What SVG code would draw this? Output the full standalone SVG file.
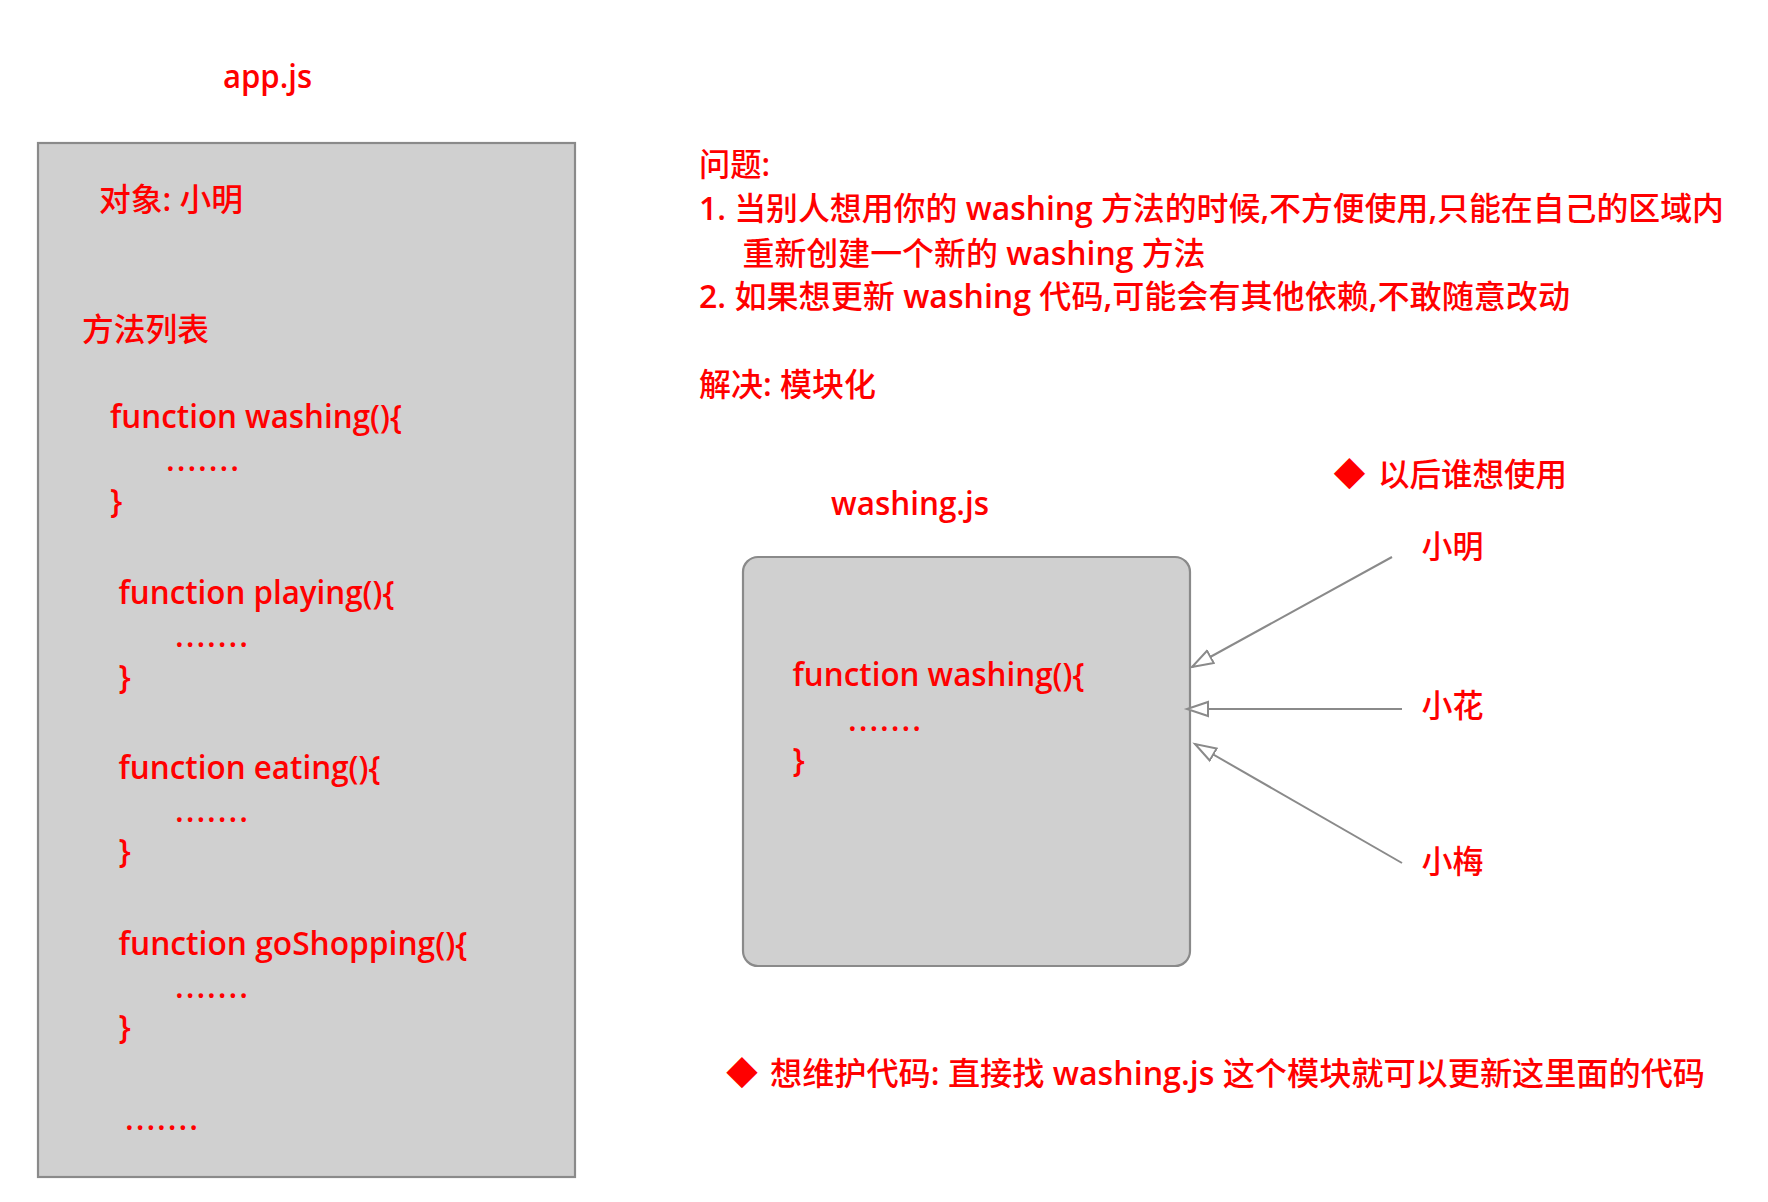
<svg xmlns="http://www.w3.org/2000/svg" width="1768" height="1202" viewBox="0 0 1768 1202">
  <style>
    .t { font-family: "Open Sans", "Noto Sans CJK SC", sans-serif; font-size: 32px; font-weight: 500; fill: #ff0000; }
    .l { font-weight: 600; }
    .box { fill: #d0d0d0; stroke: #8a8a8a; stroke-width: 2.2; }
    .link { fill: none; stroke: #8a8a8a; stroke-width: 2; }
  </style>
  <defs>
    <marker id="hollow" markerUnits="userSpaceOnUse" markerWidth="26" markerHeight="18" refX="22" refY="9" orient="auto">
      <path d="M1,2 L22,9 L1,16 Z" fill="#ffffff" stroke="#8a8a8a" stroke-width="2"/>
    </marker>
  </defs>
  <rect width="1768" height="1202" fill="#ffffff"/>

  <!-- app.js module -->
  <g id="app-title">
    <text class="t l" x="223" y="88" textLength="89" lengthAdjust="spacingAndGlyphs">app.js</text>
  </g>
  <g id="app-js">
    <rect class="box" x="38" y="143" width="537" height="1034"/>
    <text class="t" x="99" y="211" textLength="144" lengthAdjust="spacingAndGlyphs">对象<tspan class="l">:</tspan> 小明</text>
    <text class="t" x="82" y="341" textLength="127" lengthAdjust="spacingAndGlyphs">方法列表</text>

    <text class="t l" x="110" y="428" textLength="292" lengthAdjust="spacingAndGlyphs">function washing(){</text>
    <text class="t l" x="166" y="471" textLength="73" lengthAdjust="spacing">.......</text>
    <text class="t l" x="110" y="512">}</text>

    <text class="t l" x="118.5" y="604" textLength="276" lengthAdjust="spacingAndGlyphs">function playing(){</text>
    <text class="t l" x="175" y="647" textLength="73" lengthAdjust="spacing">.......</text>
    <text class="t l" x="118.5" y="688">}</text>

    <text class="t l" x="118.5" y="779" textLength="262" lengthAdjust="spacingAndGlyphs">function eating(){</text>
    <text class="t l" x="175" y="822" textLength="73" lengthAdjust="spacing">.......</text>
    <text class="t l" x="118.5" y="862">}</text>

    <text class="t l" x="118.5" y="955" textLength="349" lengthAdjust="spacingAndGlyphs">function goShopping(){</text>
    <text class="t l" x="175" y="998" textLength="73" lengthAdjust="spacing">.......</text>
    <text class="t l" x="118.5" y="1038">}</text>

    <text class="t l" x="125" y="1130" textLength="73" lengthAdjust="spacing">.......</text>
  </g>

  <!-- problem / solution notes -->
  <g id="notes">
    <text class="t" x="699" y="176" textLength="71" lengthAdjust="spacingAndGlyphs">问题<tspan class="l">:</tspan></text>
    <text class="t" x="699" y="220" textLength="1025" lengthAdjust="spacingAndGlyphs"><tspan class="l">1.</tspan> 当别人想用你的 <tspan class="l">washing</tspan> 方法的时候<tspan class="l">,</tspan>不方便使用<tspan class="l">,</tspan>只能在自己的区域内</text>
    <text class="t" x="742.5" y="265" textLength="463" lengthAdjust="spacingAndGlyphs">重新创建一个新的 <tspan class="l">washing</tspan> 方法</text>
    <text class="t" x="699" y="308" textLength="871" lengthAdjust="spacingAndGlyphs"><tspan class="l">2.</tspan> 如果想更新 <tspan class="l">washing</tspan> 代码<tspan class="l">,</tspan>可能会有其他依赖<tspan class="l">,</tspan>不敢随意改动</text>
    <text class="t" x="699" y="396" textLength="177" lengthAdjust="spacingAndGlyphs">解决<tspan class="l">:</tspan> 模块化</text>
  </g>

  <g id="note-users">
    <text class="t"><tspan x="1349.5" y="486" text-anchor="middle">◆</tspan><tspan x="1378" y="486" textLength="189" lengthAdjust="spacingAndGlyphs">以后谁想使用</tspan></text>
  </g>

  <!-- washing.js module -->
  <g id="washing-title">
    <text class="t l" x="831" y="515" textLength="158" lengthAdjust="spacingAndGlyphs">washing.js</text>
  </g>
  <g id="washing-js">
    <rect class="box" x="743" y="557" width="447" height="409" rx="15" ry="15"/>
    <text class="t l" x="792.5" y="686" textLength="292" lengthAdjust="spacingAndGlyphs">function washing(){</text>
    <text class="t l" x="848" y="731" textLength="73" lengthAdjust="spacing">.......</text>
    <text class="t l" x="792.5" y="771">}</text>
  </g>

  <!-- users -->
  <g id="xiaoming">
    <text class="t" x="1421.5" y="558" textLength="62" lengthAdjust="spacingAndGlyphs">小明</text>
  </g>
  <g id="xiaohua">
    <text class="t" x="1421.5" y="717" textLength="62" lengthAdjust="spacingAndGlyphs">小花</text>
  </g>
  <g id="xiaomei">
    <text class="t" x="1421.5" y="873" textLength="62" lengthAdjust="spacingAndGlyphs">小梅</text>
  </g>

  <!-- connectors: users depend on washing.js -->
  <g id="connectors">
    <path class="link" d="M1392,557 L1192,667" marker-end="url(#hollow)"/>
    <path class="link" d="M1402,709 L1187,709" marker-end="url(#hollow)"/>
    <path class="link" d="M1402,863 L1195,744" marker-end="url(#hollow)"/>
  </g>

  <g id="note-maintain">
    <text class="t"><tspan x="742" y="1085" text-anchor="middle">◆</tspan><tspan x="770" y="1085" textLength="935" lengthAdjust="spacingAndGlyphs">想维护代码<tspan class="l">:</tspan> 直接找 <tspan class="l">washing.js</tspan> 这个模块就可以更新这里面的代码</tspan></text>
  </g>
</svg>
